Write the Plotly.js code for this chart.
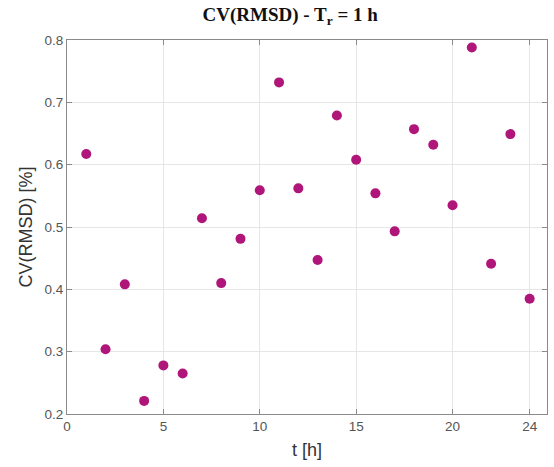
<!DOCTYPE html>
<html>
<head>
<meta charset="utf-8">
<script src="https://cdn.plot.ly/plotly-3.0.1.min.js"></script>
<style>html,body{margin:0;padding:0;background:#fff;}#chart{width:554px;height:467px;}</style>
</head>
<body>
<div id="chart"></div>
<script>
const hours = [1,2,3,4,5,6,7,8,9,10,11,12,13,14,15,16,17,18,19,20,21,22,23,24];
const cvRmsd = [0.617,0.304,0.408,0.221,0.278,0.265,0.514,0.410,0.481,0.559,0.732,0.562,0.447,0.679,0.608,0.554,0.493,0.657,0.632,0.535,0.788,0.441,0.649,0.385];
const xTickVals = [0,5,10,15,20,24];
const yTickVals = [0.2,0.3,0.4,0.5,0.6,0.7,0.8];

const trace = {
  x: hours, y: cvRmsd, type: 'scatter', mode: 'markers',
  marker: {color: '#B0157A', size: 10, line: {width: 0}}
};
const axisCommon = {
  showline: true, linecolor: '#8a8a8a', linewidth: 1, mirror: 'ticks',
  ticks: 'inside', ticklen: 5, tickcolor: '#8a8a8a', tickwidth: 1,
  showgrid: true, gridcolor: '#e6e6e6', gridwidth: 1, zeroline: false,
  tickfont: {family: 'Liberation Sans, Arial, sans-serif', size: 13.5, color: '#555'}
};
const layout = {
  width: 554, height: 467,
  margin: {l: 67, r: 7, t: 40, b: 53},
  paper_bgcolor: '#fff', plot_bgcolor: '#fff',
  showlegend: false,
  title: {text: '<b>CV(RMSD) - T<sub>r</sub> = 1 h</b>', x: 0.465, xref: 'paper', xanchor: 'center', y: 0.984, yanchor: 'top',
    font: {family: 'Liberation Serif, Times New Roman, serif', size: 19, color: '#111'}},
  xaxis: Object.assign({}, axisCommon, {range: [0, 24.9], tickvals: xTickVals, ticktext: xTickVals.map(String),
    title: {text: 't [h]', standoff: 10, font: {family: 'Liberation Sans, Arial, sans-serif', size: 18, color: '#333'}}}),
  yaxis: Object.assign({}, axisCommon, {range: [0.2, 0.8], tickvals: yTickVals, ticktext: yTickVals.map(v => v.toFixed(1)),
    title: {text: 'CV(RMSD) [%]', standoff: 7, font: {family: 'Liberation Sans, Arial, sans-serif', size: 18, color: '#333'}}})
};
Plotly.newPlot('chart', [trace], layout, {displayModeBar: false, staticPlot: true});
</script>
</body>
</html>
